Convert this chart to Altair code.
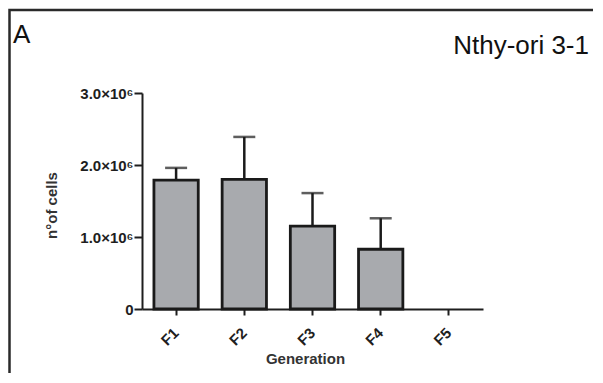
import altair as alt
import pandas as pd

generations = ["F1", "F2", "F3", "F4", "F5"]
means = [1.79e6, 1.80e6, 1.15e6, 0.83e6, 0.0]
sds = [0.17e6, 0.59e6, 0.46e6, 0.43e6, 0.0]
y_ticks = [0, 1.0e6, 2.0e6, 3.0e6]

df = pd.DataFrame({"gen": generations, "mean": means, "sd": sds})
df["upper"] = df["mean"] + df["sd"]
df_bars = df[df["mean"] > 0]

FONT = "Liberation Sans"
AX = "#1e1e1e"

x_enc = alt.X(
    "gen:N",
    scale=alt.Scale(domain=generations, paddingInner=0.35, paddingOuter=0.175),
    axis=alt.Axis(
        title="Generation",
        labelAngle=-45,
        labelAlign="right",
        labelBaseline="middle",
        labelPadding=15,
        labelFont=FONT,
        labelFontWeight="bold",
        labelFontSize=15,
        labelColor=AX,
        tickSize=6,
        tickWidth=2,
        tickColor=AX,
        domainColor=AX,
        domainWidth=2,
        titleFont=FONT,
        titleFontWeight="bold",
        titleFontSize=15,
        titleColor="#333333",
        titleX=163,
        titleY=54,
        titleBaseline="alphabetic",
        grid=False,
    ),
)

y_enc = alt.Y(
    "mean:Q",
    scale=alt.Scale(domain=[0, 3.0e6], nice=False),
    axis=alt.Axis(
        title="n°of cells",
        values=y_ticks,
        labelExpr="datum.value == 0 ? '0' : format(datum.value / 1e6, '.1f') + '×10⁶'",
        labelFont=FONT,
        labelFontWeight="bold",
        labelFontSize=15,
        labelColor=AX,
        labelPadding=1,
        tickSize=8,
        tickWidth=2,
        tickColor=AX,
        domainColor=AX,
        domainWidth=2,
        titleFont=FONT,
        titleFontWeight="bold",
        titleFontSize=15,
        titleColor="#333333",
        titleAngle=270,
        titleX=-91,
        titleY=112,
        titleAlign="center",
        titleBaseline="middle",
        grid=False,
    ),
)

base = alt.Chart(df_bars)

err_line = base.mark_rule(color="#1a1a1a", strokeWidth=2.5).encode(
    x=alt.X("gen:N", scale=alt.Scale(domain=generations)),
    y="mean:Q",
    y2="upper:Q",
)
err_cap = base.mark_tick(color="#1a1a1a", thickness=2.5, size=22).encode(
    x=alt.X("gen:N", scale=alt.Scale(domain=generations)),
    y="upper:Q",
)
bars = base.mark_bar(fill="#a8aaae", stroke="#1a1a1a", strokeWidth=2.8).encode(
    x=x_enc, y=y_enc
)

one = alt.Data(values=[{"a": 1}])
frame = alt.Chart(one).mark_rect(fill="transparent", stroke="#2a2a2a", strokeWidth=2.5).encode(
    x=alt.value(-132.5), x2=alt.value(470), y=alt.value(-83), y2=alt.value(300)
)
label_a = alt.Chart(one).mark_text(
    text="A", font="Liberation Sans", fontSize=26, align="left", baseline="alphabetic", color="#111111"
).encode(x=alt.value(-129), y=alt.value(-50))
label_t = alt.Chart(one).mark_text(
    text="Nthy-ori 3-1", font="Liberation Sans", fontSize=26, align="right", baseline="alphabetic", color="#111111"
).encode(x=alt.value(447), y=alt.value(-39))

chart = alt.layer(err_line, err_cap, bars, frame, label_a, label_t).properties(
    width=341,
    height=216,
    padding={"left": 134, "top": 85, "right": 110, "bottom": 64},
    autosize=alt.AutoSizeParams(type="none"),
).configure_view(strokeWidth=0)

chart.save("out.html", embed_options={"renderer": "svg", "actions": False})
